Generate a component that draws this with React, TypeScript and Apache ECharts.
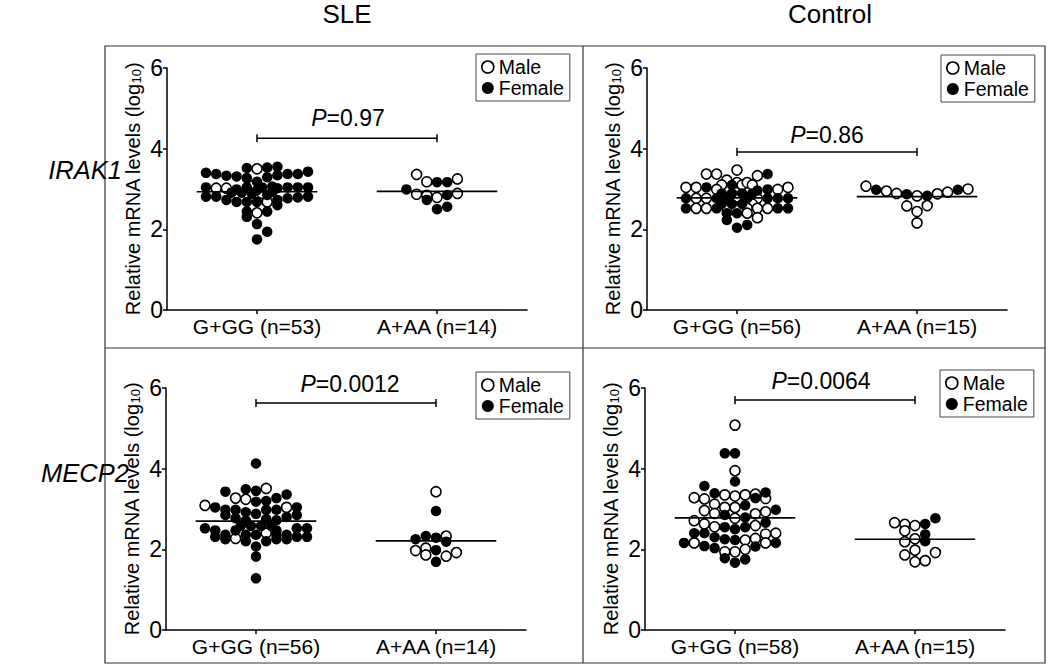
import React, { useEffect, useRef } from "react";
import * as echarts from "echarts";

type Pt = [number, number, "M" | "F"]; // [swarm column, log10 value, sex]

// ---------- data ----------
const COLUMN_TITLES = ["SLE", "Control"];
const ROW_TITLES = ["IRAK1", "MECP2"];
const Y_TICKS = [0, 2, 4, 6];
const GROUP_POS = [1, 2];

const TL_LABELS = ["G+GG (n=53)", "A+AA (n=14)"];
const TR_LABELS = ["G+GG (n=56)", "A+AA (n=15)"];
const BL_LABELS = ["G+GG (n=56)", "A+AA (n=14)"];
const BR_LABELS = ["G+GG (n=58)", "A+AA (n=15)"];

const P_VALUES = ["0.97", "0.86", "0.0012", "0.0064"];
const BRACKET_Y = [4.26, 3.92, 5.63, 5.7];
const MEANS_TL = [2.93, 2.94];
const MEANS_TR = [2.78, 2.81];
const MEANS_BL = [2.7, 2.21];
const MEANS_BR = [2.78, 2.25];

const TL_GG: Pt[] = [
  [-1, 3.52, "F"], [0, 3.5, "M"], [1, 3.53, "F"], [2, 3.55, "F"],
  [-5, 3.4, "F"], [-4, 3.37, "F"], [-3, 3.33, "F"], [-2, 3.31, "F"], [-1, 3.27, "F"], [0, 3.18, "F"],
  [1, 3.29, "F"], [2, 3.34, "F"], [3, 3.37, "F"], [4, 3.37, "F"], [5, 3.43, "F"],
  [-5, 3.04, "F"], [-4, 3.02, "M"], [-3, 3.02, "M"], [-2, 2.99, "F"], [-1, 3.04, "F"], [-0.5, 3.07, "M"],
  [0.5, 3.04, "F"], [1.5, 3.06, "F"], [2, 3.02, "F"], [3, 3.04, "F"], [4, 3.04, "F"], [5, 3.04, "F"],
  [-2.5, 2.91, "F"], [-1.5, 2.91, "F"], [-0.5, 2.88, "F"], [0.5, 2.89, "M"], [1.5, 2.93, "F"],
  [-5, 2.81, "F"], [-4, 2.81, "F"], [-3, 2.73, "F"], [-2, 2.68, "F"], [-1, 2.68, "F"], [0, 2.68, "F"],
  [1, 2.68, "M"], [2, 2.73, "F"], [3, 2.77, "F"], [4, 2.79, "F"], [5, 2.81, "F"],
  [2, 2.6, "F"],
  [-1, 2.44, "F"], [0, 2.41, "M"], [1, 2.44, "F"],
  [-1, 2.31, "F"], [0, 2.13, "F"], [1, 1.94, "F"], [0, 1.75, "F"],
  [0, 2.97, "F"], [1, 2.85, "F"],
];
const TL_AA: Pt[] = [
  [-2, 3.36, "M"], [-1, 3.18, "M"], [0, 3.17, "F"], [1, 3.17, "F"], [2, 3.25, "M"],
  [-3, 2.99, "F"], [-2, 2.87, "M"], [-1, 2.84, "M"], [-1, 2.73, "F"], [0, 2.79, "M"],
  [1, 2.85, "F"], [2, 2.89, "M"], [0, 2.5, "F"], [1, 2.56, "F"],
];
const TR_GG: Pt[] = [
  [0, 3.47, "M"],
  [-3, 3.37, "M"], [-2, 3.37, "M"],
  [2, 3.33, "M"], [3, 3.37, "F"],
  [-1, 3.22, "M"],
  [-1.5, 3.1, "M"], [-0.5, 3.1, "F"], [0, 3.16, "M"], [0.5, 3.1, "M"], [1, 3.16, "M"], [1.5, 3.1, "M"],
  [-5, 3.04, "M"], [-4, 3.04, "M"], [-3, 3.04, "F"], [-2, 2.99, "M"], [2, 2.96, "F"], [3, 2.99, "F"],
  [4, 2.99, "M"], [5, 3.04, "M"],
  [-1.5, 2.89, "F"], [-0.5, 2.89, "F"], [0.5, 2.89, "F"], [1.5, 2.89, "F"],
  [-5, 2.77, "F"], [-4, 2.77, "M"], [-3, 2.77, "M"], [-2, 2.77, "F"], [-1, 2.77, "F"], [0, 2.8, "M"],
  [1, 2.77, "F"], [2, 2.77, "M"], [3, 2.77, "F"], [4, 2.77, "F"], [5, 2.77, "F"],
  [-1.5, 2.63, "F"], [-0.5, 2.63, "F"], [0.5, 2.63, "F"], [1.5, 2.63, "M"],
  [-5, 2.52, "F"], [-4, 2.52, "M"], [-3, 2.52, "M"], [-2, 2.52, "F"], [-1, 2.52, "M"], [1, 2.52, "M"],
  [2, 2.52, "M"], [3, 2.52, "M"], [4, 2.52, "F"], [5, 2.52, "F"],
  [-1, 2.4, "F"], [0, 2.4, "F"], [1, 2.4, "M"],
  [-1, 2.23, "F"], [2, 2.29, "M"],
  [1, 2.11, "F"], [0, 2.04, "F"],
];
const TR_AA: Pt[] = [
  [-5, 3.07, "M"], [-4, 2.98, "F"], [-3, 2.95, "M"], [-2, 2.89, "M"], [-1, 2.87, "F"], [0, 2.83, "M"],
  [1, 2.83, "F"], [2, 2.88, "M"], [3, 2.92, "M"], [4, 2.98, "F"], [5, 3.0, "M"],
  [-1, 2.58, "M"], [0, 2.44, "M"], [1, 2.59, "M"], [0, 2.16, "M"],
];
const BL_GG: Pt[] = [
  [0, 4.13, "F"],
  [-3, 3.43, "F"], [-1, 3.49, "F"], [0, 3.45, "F"], [1, 3.51, "M"], [3, 3.36, "F"],
  [-2, 3.27, "M"], [-1, 3.24, "M"], [0, 3.18, "F"], [1, 3.2, "F"], [2, 3.27, "F"],
  [-5, 3.09, "M"], [-4, 3.04, "F"], [-3, 2.98, "F"], [-2, 2.98, "F"], [-1, 2.92, "F"], [0, 2.88, "F"],
  [1, 2.98, "F"], [2, 2.98, "F"], [3, 3.04, "M"], [4, 3.04, "F"],
  [-3, 2.85, "F"], [-2, 2.77, "F"], [-1, 2.71, "F"], [2, 2.72, "F"], [3, 2.8, "F"], [4, 2.85, "F"],
  [1, 2.75, "F"],
  [-1.5, 2.58, "F"], [-0.5, 2.58, "F"], [0.5, 2.58, "F"], [1.5, 2.58, "F"],
  [-5, 2.52, "F"], [-4, 2.47, "F"], [4, 2.52, "F"], [5, 2.52, "F"], [-2, 2.47, "F"], [2, 2.47, "F"],
  [-4, 2.31, "F"], [-3, 2.36, "F"], [-2, 2.27, "M"], [-1, 2.36, "F"], [0, 2.36, "F"], [1, 2.4, "M"],
  [2, 2.36, "F"], [3, 2.36, "F"], [4, 2.31, "F"], [5, 2.31, "F"],
  [-3, 2.25, "F"], [-1, 2.2, "F"], [1, 2.2, "F"], [2, 2.25, "F"], [3, 2.25, "F"],
  [0, 2.07, "F"], [0, 1.82, "F"], [0, 1.28, "F"],
];
const BL_AA: Pt[] = [
  [0, 3.43, "M"], [0, 2.95, "F"], [-2, 2.25, "F"], [-1, 2.33, "F"], [0, 2.29, "F"], [1, 2.33, "M"],
  [1, 2.19, "F"], [-2, 1.97, "M"], [-1, 2.03, "M"], [-1, 1.86, "M"], [0, 1.98, "F"], [1, 1.83, "M"],
  [2, 1.92, "M"], [0, 1.69, "F"],
];
const BR_GG: Pt[] = [
  [0, 5.08, "M"],
  [-1, 4.38, "F"], [0, 4.38, "F"],
  [0, 3.95, "M"],
  [0, 3.68, "F"],
  [-3, 3.57, "F"],
  [-2, 3.39, "F"], [-1, 3.35, "M"], [0, 3.32, "M"], [1, 3.35, "M"], [2, 3.37, "M"], [3, 3.41, "F"],
  [-4, 3.28, "M"], [-3, 3.25, "M"], [2, 3.27, "F"], [3, 3.26, "M"],
  [-2, 3.12, "M"], [-1, 3.04, "M"], [0, 3.04, "M"], [1, 3.09, "F"],
  [-3, 2.96, "M"], [-2, 2.89, "M"], [2, 2.88, "M"], [3, 2.93, "M"], [4, 2.98, "F"],
  [-1, 2.85, "F"], [0, 2.77, "M"], [1, 2.79, "F"], [-4, 2.71, "M"],
  [3, 2.66, "F"],
  [-3, 2.63, "M"], [-2, 2.56, "M"], [-1, 2.55, "F"], [0, 2.5, "F"], [1, 2.55, "F"], [2, 2.59, "M"],
  [-4, 2.4, "F"], [-3, 2.4, "F"], [3, 2.38, "M"], [4, 2.4, "M"],
  [-2, 2.3, "F"], [-1, 2.25, "F"], [0, 2.23, "F"], [1, 2.23, "M"], [2, 2.27, "M"],
  [-5, 2.16, "F"], [-4, 2.16, "M"], [-3, 2.08, "F"], [-2, 2.03, "F"], [2, 2.07, "F"], [3, 2.16, "M"], [4, 2.16, "F"],
  [-1, 1.94, "M"], [0, 1.94, "M"], [1, 2.0, "M"],
  [-1, 1.78, "F"], [0, 1.67, "F"], [1, 1.75, "F"],
];
const BR_AA: Pt[] = [
  [-2, 2.66, "M"], [-1, 2.62, "M"], [-1, 2.46, "M"], [0, 2.59, "M"], [1, 2.63, "F"], [2, 2.77, "F"],
  [1, 2.37, "F"], [0, 2.26, "M"], [1, 2.2, "F"], [-1, 2.19, "M"], [0, 1.98, "M"], [-1, 1.86, "M"],
  [2, 1.92, "M"], [0, 1.69, "M"], [1, 1.72, "M"],
];

// ---------- layout ----------
const FONT = "'Liberation Sans', Arial, Helvetica, sans-serif";
const SLOT = 10.2 / 180; // one swarm column in x-axis units
const HALF_MEAN = 0.335;
const TICK_H = 0.1;

const PANELS = [
  { grid: { left: 167, top: 68, width: 360, height: 242 }, groups: [TL_GG, TL_AA], labels: TL_LABELS, means: MEANS_TL, legend: { left: 476, top: 54 }, p: { x: 348, y: 118 } },
  { grid: { left: 647, top: 68, width: 360, height: 242 }, groups: [TR_GG, TR_AA], labels: TR_LABELS, means: MEANS_TR, legend: { left: 941, top: 55 }, p: { x: 827, y: 135 } },
  { grid: { left: 166, top: 388, width: 360, height: 242 }, groups: [BL_GG, BL_AA], labels: BL_LABELS, means: MEANS_BL, legend: { left: 476, top: 372 }, p: { x: 350, y: 384 } },
  { grid: { left: 645, top: 388, width: 360, height: 242 }, groups: [BR_GG, BR_AA], labels: BR_LABELS, means: MEANS_BR, legend: { left: 940, top: 370 }, p: { x: 821, y: 381 } },
];

function points(groups: Pt[][], sex: "M" | "F") {
  const out: number[][] = [];
  groups.forEach((g, gi) => {
    g.forEach((p) => {
      if (p[2] === sex) out.push([GROUP_POS[gi] + p[0] * SLOT, p[1]]);
    });
  });
  return out;
}

function buildOption() {
  const grids: any[] = [];
  const xAxes: any[] = [];
  const yAxes: any[] = [];
  const series: any[] = [];
  const legends: any[] = [];
  const graphics: any[] = [];

  PANELS.forEach((pn, i) => {
    grids.push({ ...pn.grid, containLabel: false });
    xAxes.push({
      type: "value",
      gridIndex: i,
      min: 0.5,
      max: 2.5,
      splitLine: { show: false },
      axisLine: { show: true, lineStyle: { color: "#000", width: 1.5 } },
      axisTick: { show: true, customValues: GROUP_POS, length: 4, lineStyle: { color: "#000", width: 1.5 } },
      axisLabel: {
        customValues: GROUP_POS,
        formatter: (v: number) => pn.labels[GROUP_POS.indexOf(Math.round(v))] ?? "",
        fontFamily: FONT,
        fontSize: 21,
        color: "#000",
        margin: 6,
      },
    });
    yAxes.push({
      type: "value",
      gridIndex: i,
      min: 0,
      max: 6,
      interval: 2,
      splitLine: { show: false },
      axisLine: { show: true, lineStyle: { color: "#000", width: 1.5 } },
      axisTick: { show: true, length: 4, lineStyle: { color: "#000", width: 1.5 } },
      axisLabel: {
        fontFamily: FONT,
        fontSize: 23,
        color: "#000",
        margin: 4,
        formatter: (v: number) => (Y_TICKS.includes(v) ? String(v) : ""),
      },
      name: "Relative mRNA levels (log{s|10})",
      nameLocation: "middle",
      nameRotate: 90,
      nameGap: 24,
      nameTextStyle: {
        fontFamily: FONT,
        fontSize: 20,
        color: "#000",
        rich: { s: { fontFamily: FONT, fontSize: 13, color: "#000", padding: [8, 0, 0, 0] } },
      },
    });

    series.push({
      name: "Male",
      type: "scatter",
      xAxisIndex: i,
      yAxisIndex: i,
      symbol: "circle",
      symbolSize: 10,
      itemStyle: { color: "#fff", borderColor: "#000", borderWidth: 1.6, opacity: 1 },
      data: points(pn.groups, "M"),
      z: 3,
    });
    series.push({
      name: "Female",
      type: "scatter",
      xAxisIndex: i,
      yAxisIndex: i,
      symbol: "circle",
      symbolSize: 10.5,
      itemStyle: { color: "#000", borderColor: "#000", borderWidth: 0, opacity: 1 },
      data: points(pn.groups, "F"),
      z: 3,
    });
    pn.means.forEach((m, gi) => {
      series.push({
        type: "line",
        xAxisIndex: i,
        yAxisIndex: i,
        symbol: "none",
        silent: true,
        lineStyle: { color: "#000", width: 1.6 },
        data: [
          [GROUP_POS[gi] - HALF_MEAN, m],
          [GROUP_POS[gi] + HALF_MEAN, m],
        ],
        z: 4,
      });
    });
    const by = BRACKET_Y[i];
    series.push({
      type: "line",
      xAxisIndex: i,
      yAxisIndex: i,
      symbol: "none",
      silent: true,
      lineStyle: { color: "#000", width: 1.5 },
      data: [
        [GROUP_POS[0], by + TICK_H],
        [GROUP_POS[0], by - TICK_H],
        [GROUP_POS[0], by],
        [GROUP_POS[1], by],
        [GROUP_POS[1], by + TICK_H],
        [GROUP_POS[1], by - TICK_H],
      ],
      z: 4,
    });

    legends.push({
      orient: "vertical",
      left: pn.legend.left,
      top: pn.legend.top,
      padding: [3, 6, 3, 5],
      itemGap: 1,
      itemWidth: 12,
      itemHeight: 12,
      selectedMode: false,
      borderColor: "#444",
      borderWidth: 1,
      backgroundColor: "#fff",
      textStyle: { fontFamily: FONT, fontSize: 19.5, color: "#000", lineHeight: 20 },
      data: [
        { name: "Male", icon: "circle", itemStyle: { color: "#fff", borderColor: "#000", borderWidth: 1.6 } },
        { name: "Female", icon: "circle", itemStyle: { color: "#000", borderColor: "#000", borderWidth: 0 } },
      ],
    });

    graphics.push({
      type: "text",
      x: pn.p.x,
      y: pn.p.y,
      style: {
        text: "{i|P}=" + P_VALUES[i],
        fontFamily: FONT,
        fontSize: 23,
        fill: "#000",
        align: "center",
        verticalAlign: "middle",
        rich: { i: { fontFamily: FONT, fontSize: 23, fontStyle: "italic", fill: "#000" } },
      },
    });
  });

  // frame
  graphics.push({ type: "rect", shape: { x: 105, y: 46, width: 940, height: 617 }, style: { fill: "none", stroke: "#333", lineWidth: 1.2 } });
  graphics.push({ type: "line", shape: { x1: 583, y1: 46, x2: 583, y2: 663 }, style: { stroke: "#333", lineWidth: 1.2 } });
  graphics.push({ type: "line", shape: { x1: 105, y1: 348, x2: 1045, y2: 348 }, style: { stroke: "#333", lineWidth: 1.2 } });

  // column and row titles
  [347, 830].forEach((x, k) => {
    graphics.push({
      type: "text",
      x,
      y: 14,
      style: { text: COLUMN_TITLES[k], fontFamily: FONT, fontSize: 26, fill: "#000", align: "center", verticalAlign: "middle" },
    });
  });
  [170, 473].forEach((y, k) => {
    graphics.push({
      type: "text",
      x: 85,
      y,
      style: { text: ROW_TITLES[k], fontFamily: FONT, fontSize: 25.5, fontStyle: "italic", fill: "#000", align: "center", verticalAlign: "middle" },
    });
  });

  return {
    animation: false,
    backgroundColor: "#fff",
    grid: grids,
    xAxis: xAxes,
    yAxis: yAxes,
    legend: legends,
    series,
    graphic: graphics,
  };
}

export default function App() {
  const ref = useRef<HTMLDivElement>(null);
  useEffect(() => {
    if (!ref.current) return;
    const chart = echarts.init(ref.current, undefined, { renderer: "svg" });
    chart.setOption(buildOption() as any);
    return () => chart.dispose();
  }, []);
  return <div ref={ref} style={{ position: "absolute", left: 0, top: 0, width: 1050, height: 667 }} />;
}
